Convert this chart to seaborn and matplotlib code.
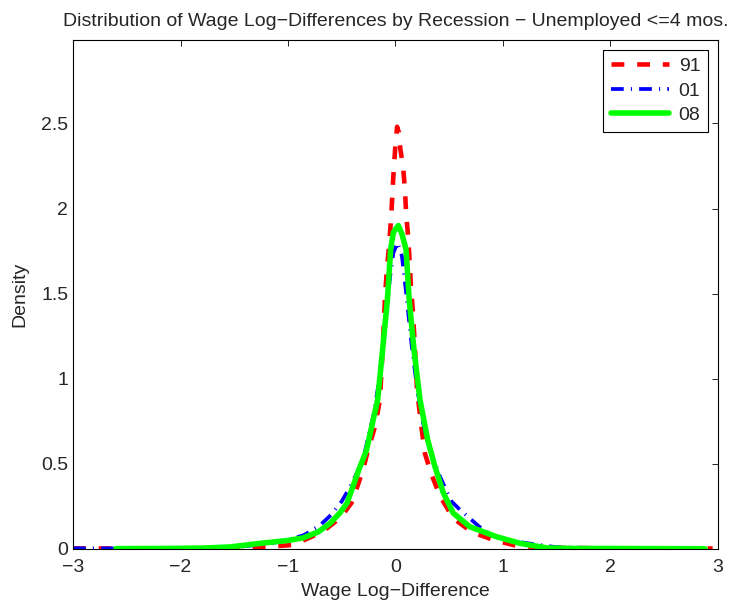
import matplotlib
matplotlib.use("Agg")
import matplotlib.pyplot as plt
import seaborn as sns

# density curves (x = wage log-difference, y = density)
x91 = [-3.0, -2.5, -2.0, -1.5, -1.2, -0.95, -0.77, -0.65, -0.56, -0.48, -0.41, -0.35, -0.3,
       -0.256, -0.19, -0.145, -0.128, -0.11, -0.098, -0.08, -0.06, -0.04, -0.02, 0.0, 0.015,
       0.03, 0.045, 0.07, 0.088, 0.1, 0.12, 0.144, 0.16, 0.175, 0.2, 0.24, 0.274, 0.337,
       0.414, 0.538, 0.709, 0.91, 1.13, 1.5, 2.0, 2.5, 2.95]
y91 = [0.003, 0.003, 0.004, 0.007, 0.012, 0.024, 0.075, 0.115, 0.16, 0.21, 0.27, 0.376, 0.47,
       0.58, 0.72, 0.876, 1.07, 1.3, 1.48, 1.64, 1.78, 1.95, 2.19, 2.38, 2.48,
       2.45, 2.35, 2.25, 2.11, 1.96, 1.82, 1.54, 1.41, 1.25, 0.94, 0.72, 0.56, 0.435,
       0.31, 0.18, 0.1, 0.053, 0.018, 0.006, 0.004, 0.003, 0.003]

x01 = [-3.0, -2.5, -2.0, -1.5, -1.2, -1.0, -0.85, -0.7, -0.6, -0.5, -0.4, -0.3, -0.2, -0.15,
       -0.1, -0.05, -0.02, 0.02, 0.06, 0.1, 0.15, 0.2, 0.25, 0.3, 0.414, 0.52, 0.6, 0.709,
       0.8, 0.9, 1.0, 1.19, 1.5, 2.0, 2.5, 2.9]
y01 = [0.004, 0.003, 0.005, 0.01, 0.03, 0.052, 0.082, 0.14, 0.2, 0.28, 0.39, 0.53, 0.8, 1.0,
       1.3, 1.6, 1.74, 1.8, 1.72, 1.5, 1.2, 0.95, 0.76, 0.62, 0.425, 0.28, 0.23, 0.17,
       0.12, 0.08, 0.06, 0.037, 0.01, 0.004, 0.003, 0.002]

x08 = [-2.6, -2.2, -1.8, -1.54, -1.23, -1.0, -0.86, -0.72, -0.61, -0.52, -0.45, -0.35, -0.27,
       -0.2, -0.166, -0.12, -0.076, -0.045, -0.02, 0.026, 0.06, 0.098, 0.128, 0.172, 0.228,
       0.3, 0.367, 0.445, 0.538, 0.693, 0.94, 1.16, 1.41, 1.7, 2.0, 2.4, 2.88]
y08 = [0.002, 0.003, 0.005, 0.012, 0.035, 0.05, 0.065, 0.1, 0.15, 0.21, 0.27, 0.45, 0.58,
       0.78, 0.876, 1.17, 1.46, 1.76, 1.86, 1.9, 1.85, 1.76, 1.46, 1.17, 0.876,
       0.64, 0.484, 0.33, 0.21, 0.13, 0.072, 0.033, 0.006, 0.003, 0.003, 0.002, 0.001]

xticks = [-3, -2, -1, 0, 1, 2, 3]
xtick_labels = ["\u22123", "\u22122", "\u22121", "0", "1", "2", "3"]
yticks = [0, 0.5, 1, 1.5, 2, 2.5]
ytick_labels = ["0", "0.5", "1", "1.5", "2", "2.5"]

sns.set_style("white")
plt.rcParams["font.family"] = ["Liberation Sans", "DejaVu Sans"]
plt.rcParams["font.size"] = 14

fig, ax = plt.subplots(figsize=(7.36, 6.04), dpi=100)
fig.subplots_adjust(left=0.0992, right=0.9755, bottom=0.0911, top=0.9338)

sns.lineplot(x=x91, y=y91, ax=ax, color=(1, 0, 0), lw=3.3, linestyle=(0, (2.8, 2.8)), label="91")
sns.lineplot(x=x01, y=y01, ax=ax, color=(0, 0, 1), lw=2.7,
             linestyle=(0, (3.4, 1.9, 0.3, 1.9)), label="01")
sns.lineplot(x=x08, y=y08, ax=ax, color=(0, 1, 0), lw=4, label="08")

ax.set_xlim(-3, 3)
ax.set_ylim(0, 2.99)
ax.set_xticks(xticks)
ax.set_xticklabels(xtick_labels)
ax.set_yticks(yticks)
ax.set_yticklabels(ytick_labels)
ax.tick_params(direction="in", length=4.5, width=0.6, top=True, right=True,
               labelsize=14, color="black")
ax.tick_params(axis="x", pad=7.5)
ax.tick_params(axis="y", pad=3.5)
for s in ax.spines.values():
    s.set_color("black")
    s.set_linewidth(0.8)

ax.set_title("Distribution of Wage Log\u2212Differences by Recession \u2212 Unemployed <=4 mos.",
             fontsize=14, pad=10)
ax.set_xlabel("Wage Log\u2212Difference", fontsize=14, labelpad=5)
ax.set_ylabel("Density", fontsize=14, labelpad=9)

leg = ax.legend(loc="upper right", fontsize=14, handlelength=3.0, borderaxespad=0.5,
                labelspacing=0.35, handletextpad=0.5, fancybox=False, framealpha=1,
                edgecolor="black")
leg.get_frame().set_linewidth(0.8)

plt.savefig("out.png", dpi=100)
